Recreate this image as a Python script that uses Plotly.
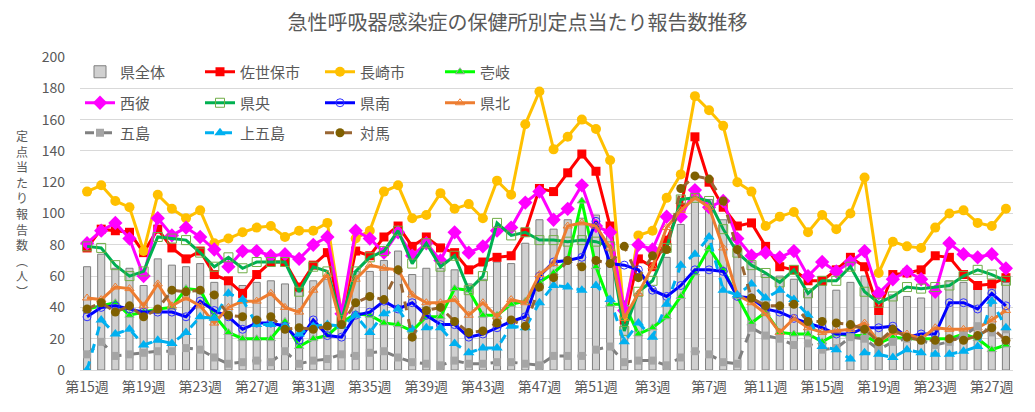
import plotly.graph_objects as go

weeks = [f"第{w}週" for w in list(range(15, 53)) + list(range(1, 29))]

ken_zentai = [66,74,65,65,54,71,67,66,68,56,55,54,56,57,55,50,57,58,
              30,
              63,63,70,76,61,65,65,64,55,58,69,68,81,96,90,96,97,99,92,
              30,
              49,52,72,93,111,109,96,80,69,61,60,
              58,50,55,51,56,60,43,48,47,46,50,57,56,53,55,56]
sasebo = [78,90,89,88,75,90,78,71,76,61,57,49,61,69,69,53,67,75,
          33,
          76,73,85,92,79,85,78,75,64,69,72,73,88,116,114,126,138,127,92,
          32,
          71,66,83,104,149,120,104,92,94,79,66,
          64,57,57,64,72,66,38,61,62,64,73,72,61,54,55,59]
nagasaki = [114,118,108,104,76,112,103,97,102,81,84,88,91,92,85,89,89,94,
            36,
            84,89,114,118,97,99,113,103,106,97,121,112,157,178,141,149,160,154,134,
            34,
            86,89,110,125,175,166,156,120,114,92,98,
            101,88,99,90,100,123,62,82,79,78,91,100,102,94,92,103]
iki = [39,41,43,35,37,39,40,52,51,35,24,20,20,20,31,15,20,22,
       30,
       36,35,30,29,25,34,34,52,51,35,35,42,44,56,62,70,108,66,42,
       42,
       23,27,34,47,62,78,64,47,30,37,24,
       23,23,18,23,22,22,17,21,20,20,20,20,23,20,13,16]
seihi = [81,89,94,84,60,97,86,91,85,77,66,76,76,73,74,71,80,85,
         36,
         89,84,75,88,73,81,70,88,75,79,89,91,107,114,96,103,118,92,88,
         38,
         80,77,98,98,115,104,108,84,73,75,72,
         76,60,69,63,69,76,49,58,63,58,50,81,74,72,74,65]
kenou = [79,78,67,60,63,85,84,83,75,66,72,65,69,69,69,50,66,63,
         32,
         63,72,76,89,68,81,66,73,51,60,94,86,88,83,83,82,83,82,79,
         25,
         50,57,78,109,110,108,90,75,67,62,56,
         64,49,57,57,66,50,43,47,53,52,53,54,60,64,61,57]
kennan = [34,40,41,39,37,37,37,34,44,38,34,26,30,30,28,19,32,22,
          21,
          35,37,44,39,43,35,29,29,21,23,27,31,34,60,69,70,72,95,68,
          67,
          64,51,47,54,64,64,63,47,46,39,37,
          33,30,27,23,23,27,27,28,21,23,23,43,43,39,49,41]
kenhoku = [46,45,53,52,41,55,41,46,41,30,40,44,44,49,40,37,51,61,
           28,
           58,67,65,64,48,43,43,45,35,43,34,45,43,61,68,92,94,92,78,
           33,
           49,66,91,102,110,104,78,48,43,36,24,
           33,27,24,25,26,30,18,24,23,20,27,26,26,27,32,38]
goto = [10,18,9,10,11,12,12,14,13,8,4,5,6,5,12,4,6,7,10,9,
        11,12,8,5,4,3,6,4,4,5,5,4,3,9,9,9,13,15,5,6,6,3,8,12,10,5,4,
        27,22,20,16,17,13,14,21,20,13,18,20,19,16,18,22,28,24,26]
kamigoto = [0,32,23,26,16,19,17,24,34,33,49,45,29,29,28,23,28,29,28,
            35,24,36,39,26,27,27,17,11,14,14,28,27,43,54,53,51,54,
            45,18,30,21,42,67,74,85,51,48,
            55,46,51,45,35,15,13,7,11,10,8,13,11,10,10,12,15,44,27]
tsushima = [39,43,37,41,34,39,51,50,51,48,35,34,32,34,26,27,26,28,
            29,43,47,45,64,21,38,40,31,24,25,30,32,28,53,59,70,66,70,68,
            79,59,73,77,116,124,122,108,77,46,41,41,42,31,31,30,29,26,18,
            26,21,19,19,20,19,22,27,19]

x = list(range(len(weeks)))
tick_idx = x[::4]
tick_txt = [weeks[i] for i in tick_idx]

FONT = "Noto Sans CJK JP"
GRAY = "#595959"

fig = go.Figure()
fig.add_trace(go.Bar(x=x, y=ken_zentai, name="県全体", width=0.5,
                     marker=dict(color="#D0D0D0", line=dict(color="#7F7F7F", width=1)),
                     legend="legend"))

def line(name, y, color, symbol, msize, mcolor=None, mline=None, dash="solid", width=3, legend="legend"):
    marker = dict(symbol=symbol, size=msize, color=mcolor or color)
    if mline:
        marker["line"] = dict(color=mline, width=1)
    fig.add_trace(go.Scatter(x=x, y=y, name=name, mode="lines+markers",
                             line=dict(color=color, width=width, dash=dash),
                             marker=marker, legend=legend))

line("佐世保市", sasebo, "#FF0000", "square", 9)
line("長崎市", nagasaki, "#FFC000", "circle", 10)
line("壱岐", iki, "#00FF00", "triangle-up", 8, mline="#A5A5A5")
line("西彼", seihi, "#FF00FF", "diamond", 11, legend="legend2")
line("県央", kenou, "#00B050", "square-open", 9, mcolor="#70AD47", legend="legend2")
line("県南", kennan, "#0000FF", "circle-open", 8, mcolor="#3333FF", legend="legend2")
line("県北", kenhoku, "#ED7D31", "triangle-up-open", 8, legend="legend2")
line("五島", goto, "#808080", "square", 8, mcolor="#A5A5A5", dash="dash", legend="legend3")
line("上五島", kamigoto, "#00B0F0", "triangle-up", 10, dash="dash", legend="legend3")
line("対馬", tsushima, "#996633", "circle", 9, mcolor="#7F6000", dash="dash", legend="legend3")

PLOT_TOP, PLOT_BOTTOM = 57, 370
def py(p):
    return (PLOT_BOTTOM - p) / (PLOT_BOTTOM - PLOT_TOP)

leg_common = dict(orientation="h", entrywidth=75, entrywidthmode="pixels",
                  xanchor="left", yanchor="middle", x=0.0,
                  bgcolor="rgba(0,0,0,0)", font=dict(family=FONT, size=15, color=GRAY),
                  traceorder="normal")

ylabel = "<br>".join(list("定点当たり報告数") + ["︵", "人", "︶"])

fig.update_layout(
    width=1035, height=412,
    margin=dict(l=80, r=22, t=57, b=42),
    paper_bgcolor="white", plot_bgcolor="white",
    font=dict(family=FONT, color=GRAY),
    title=dict(text="急性呼吸器感染症の保健所別定点当たり報告数推移",
               x=0.5, xanchor="center", y=0.945, yanchor="middle",
               font=dict(family=FONT, size=20, color=GRAY)),
    bargap=0.5,
    legend=dict(leg_common, y=py(72)),
    legend2=dict(leg_common, y=py(103)),
    legend3=dict(leg_common, y=py(133)),
    xaxis=dict(range=[-0.5, len(weeks) - 0.5], tickmode="array", tickvals=tick_idx,
               ticktext=tick_txt, showgrid=False, showline=True, linecolor="#D9D9D9",
               ticks="", ticklabelstandoff=4,
               tickfont=dict(family=FONT, size=14, color=GRAY)),
    yaxis=dict(range=[0, 200], dtick=20, showgrid=True, gridcolor="#D9D9D9",
               zeroline=False, ticks="", ticklabelstandoff=14,
               tickfont=dict(family=FONT, size=14, color=GRAY)),
    annotations=[dict(text=ylabel, xref="paper", yref="paper", x=-0.062, y=0.5,
                      xanchor="center", yanchor="middle", showarrow=False,
                      font=dict(family=FONT, size=12, color=GRAY))],
)

fig.write_html("out.html")
